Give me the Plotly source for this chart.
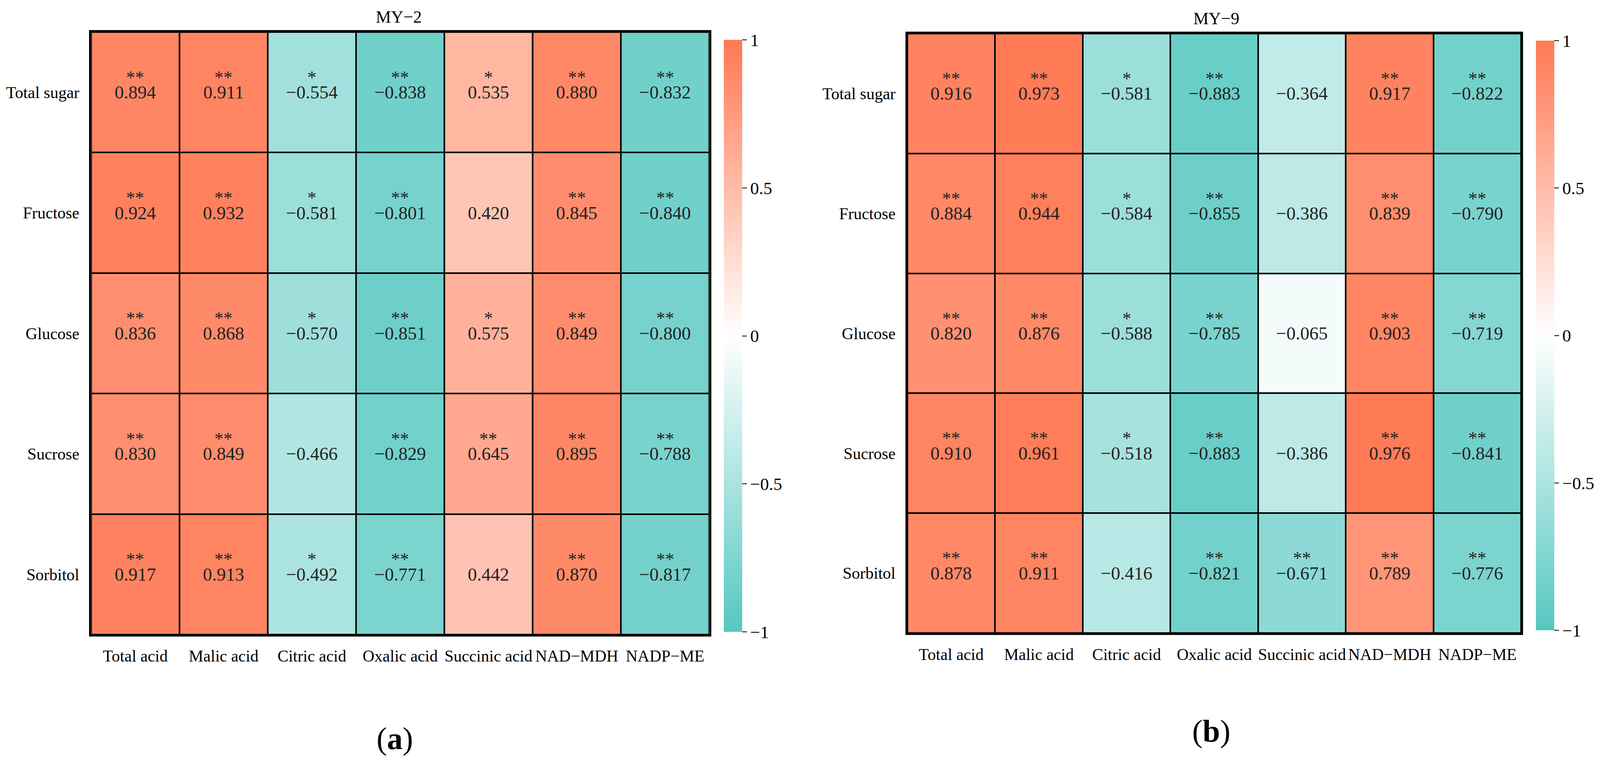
import plotly.graph_objects as go

# Reference geometry (pixels of the 4246 x 1968 reference); converted to paper fractions
W, H = 4246, 1968

rows = ["Total sugar", "Fructose", "Glucose", "Sucrose", "Sorbitol"]
cols = ["Total acid", "Malic acid", "Citric acid", "Oxalic acid", "Succinic acid", "NAD−MDH", "NADP−ME"]

my2_values = [
    [0.894, 0.911, -0.554, -0.838, 0.535, 0.880, -0.832],
    [0.924, 0.932, -0.581, -0.801, 0.420, 0.845, -0.840],
    [0.836, 0.868, -0.570, -0.851, 0.575, 0.849, -0.800],
    [0.830, 0.849, -0.466, -0.829, 0.645, 0.895, -0.788],
    [0.917, 0.913, -0.492, -0.771, 0.442, 0.870, -0.817],
]
my2_stars = [
    ["**", "**", "*", "**", "*", "**", "**"],
    ["**", "**", "*", "**", "", "**", "**"],
    ["**", "**", "*", "**", "*", "**", "**"],
    ["**", "**", "", "**", "**", "**", "**"],
    ["**", "**", "*", "**", "", "**", "**"],
]
my9_values = [
    [0.916, 0.973, -0.581, -0.883, -0.364, 0.917, -0.822],
    [0.884, 0.944, -0.584, -0.855, -0.386, 0.839, -0.790],
    [0.820, 0.876, -0.588, -0.785, -0.065, 0.903, -0.719],
    [0.910, 0.961, -0.518, -0.883, -0.386, 0.976, -0.841],
    [0.878, 0.911, -0.416, -0.821, -0.671, 0.789, -0.776],
]
my9_stars = [
    ["**", "**", "*", "**", "", "**", "**"],
    ["**", "**", "*", "**", "", "**", "**"],
    ["**", "**", "*", "**", "", "**", "**"],
    ["**", "**", "*", "**", "", "**", "**"],
    ["**", "**", "", "**", "**", "**", "**"],
]
panel_titles = ["MY−2", "MY−9"]
panel_labels = ["a", "b"]
cbar_tickvals = [-1, -0.5, 0, 0.5, 1]
cbar_ticktext = ["−1", "−0.5", "0", "0.5", "1"]

FONT = "Liberation Serif"
TXT = "#222222"
colorscale = [[0.0, "#55C7C0"], [0.5, "#FFFFFF"], [1.0, "#FF7852"]]


def fmt(v):
    return f"{v:.3f}".replace("-", "−")


def px_x(p):
    return p / W


def px_y(p):
    return 1 - p / H


fig = go.Figure()

panels = [
    dict(vals=my2_values, stars=my2_stars, xd=(242, 1882), yd=(82, 1624), cb=(1921, 102, 1617),
         title_xy=(1058, 43), lab_xy=(1048, 1890)),
    dict(vals=my9_values, stars=my9_stars, xd=(2408, 4037), yd=(86, 1620), cb=(4076, 104, 1613),
         title_xy=(3228, 47), lab_xy=(3215, 1871)),
]

annotations = []
for i, p in enumerate(panels):
    sfx = "" if i == 0 else str(i + 1)
    ca = "coloraxis" + sfx
    fig.add_trace(go.Heatmap(
        z=p["vals"], x=cols, y=rows,
        text=[[fmt(v) for v in r] for r in p["vals"]],
        texttemplate="%{text}",
        textfont=dict(family=FONT, size=47, color=TXT),
        xgap=4, ygap=4,
        coloraxis=ca,
        xaxis="x" + sfx, yaxis="y" + sfx,
        hoverinfo="skip",
    ))
    for ri, rname in enumerate(rows):
        for ci, cname in enumerate(cols):
            s = p["stars"][ri][ci]
            if s:
                annotations.append(dict(
                    x=cname, y=rname, xref="x" + sfx, yref="y" + sfx,
                    xanchor="center", yanchor="middle",
                    text=s, showarrow=False, yshift=38,
                    font=dict(family=FONT, size=46, color=TXT),
                ))
    cbx, cbt, cbb = p["cb"]
    fig.layout[ca] = dict(
        cmin=-1, cmax=1, colorscale=colorscale,
        colorbar=dict(
            x=px_x(cbx), xanchor="left",
            y=px_y((cbt + cbb) / 2), yanchor="middle",
            len=cbb - cbt, lenmode="pixels",
            thickness=47, thicknessmode="pixels",
            outlinewidth=0,
            tickvals=cbar_tickvals, ticktext=cbar_ticktext,
            ticks="outside", ticklen=12, tickwidth=2, tickcolor="black",
            tickfont=dict(family=FONT, size=45, color="black"),
            xpad=0, ypad=0,
        ),
    )
    axis_common = dict(showline=True, mirror=True, linewidth=5, linecolor="black",
                       showgrid=False, zeroline=False, automargin=False,
                       ticks="", tickfont=dict(family=FONT, size=42, color="black"))
    fig.layout["xaxis" + sfx] = dict(domain=[px_x(p["xd"][0]), px_x(p["xd"][1])],
                                     anchor="y" + sfx, ticklabelstandoff=14, **axis_common)
    fig.layout["yaxis" + sfx] = dict(domain=[px_y(p["yd"][1]), px_y(p["yd"][0])],
                                     anchor="x" + sfx, autorange="reversed",
                                     ticklabelstandoff=17, **axis_common)
    tx, ty = p["title_xy"]
    annotations.append(dict(x=px_x(tx), y=px_y(ty), xref="paper", yref="paper",
                            xanchor="center", yanchor="middle",
                            text=panel_titles[i], showarrow=False,
                            font=dict(family=FONT, size=44, color="black")))
    lx, ly = p["lab_xy"]
    annotations.append(dict(x=px_x(lx), y=px_y(ly), xref="paper", yref="paper",
                            xanchor="center", yanchor="middle",
                            text="(<b>" + panel_labels[i] + "</b>)", showarrow=False,
                            font=dict(family=FONT, size=80, color="black")))

fig.update_layout(
    autosize=True,
    margin=dict(l=0, r=0, t=0, b=0),
    paper_bgcolor="white", plot_bgcolor="black",
    annotations=annotations,
    showlegend=False,
    template=None,
)

# Fill the actual browser viewport so the paper-fraction layout maps onto the whole page
post = (
    "document.body.style.margin='0';"
    "document.body.style.overflow='hidden';"
    "document.documentElement.style.overflow='hidden';"
    "var gd=document.getElementById('{plot_id}');"
    "Plotly.Plots.resize(gd);"
)
fig.write_html("out.html", default_width="100vw", default_height="100vh",
               config={"displayModeBar": False}, post_script=post)
